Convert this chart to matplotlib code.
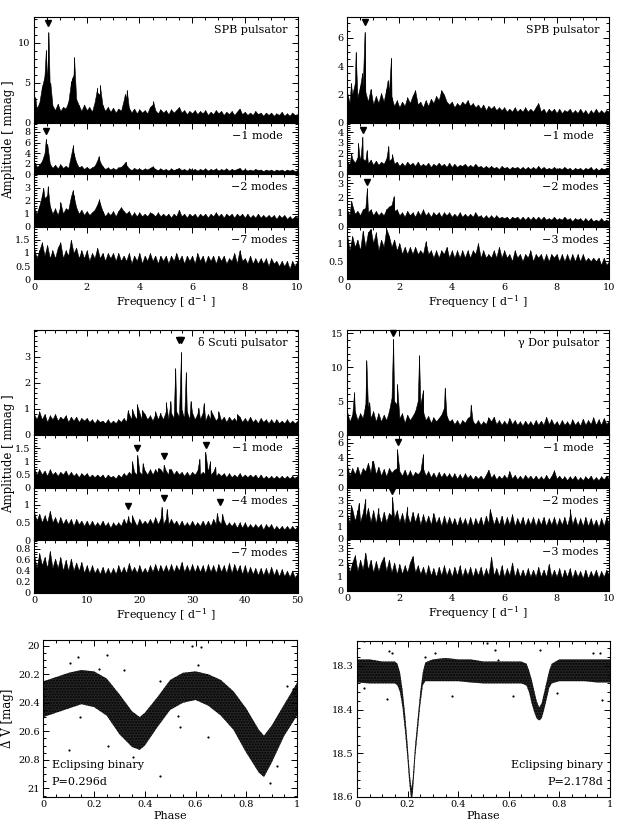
import numpy as np
import matplotlib
matplotlib.use('Agg')
import matplotlib.pyplot as plt
from matplotlib.ticker import MultipleLocator, FuncFormatter

plt.rcParams['font.family'] = ['DejaVu Serif']
plt.rcParams['mathtext.fontset'] = 'dejavuserif'
plt.rcParams['hatch.linewidth'] = 1.0

# ---------------- frequency grids ----------------
freq10 = np.linspace(0, 10, 101)
freq50 = np.linspace(0, 50, 101)

# ---------------- top-left: SPB pulsator ----------------
tl1_amp = [2.8,1.8,2.5,4.5,6.0,5.0,4.0,2.2,1.6,2.4,
           1.5,2.0,1.8,2.6,5.0,6.0,3.0,2.2,1.5,2.3,
           1.6,2.0,1.4,2.6,3.8,3.5,2.2,1.5,2.0,1.4,
           1.9,1.3,1.8,1.5,2.8,3.0,1.9,1.3,1.8,1.2,
           1.7,1.3,1.6,1.2,2.0,2.3,1.6,1.2,1.7,1.3,
           1.6,1.1,1.7,1.3,1.6,2.0,1.3,1.6,1.1,1.5,
           1.2,1.6,1.1,1.5,1.2,1.6,1.0,1.4,1.1,1.6,
           1.2,1.5,1.0,1.4,1.1,1.5,1.0,1.4,1.8,1.1,
           1.4,1.0,1.3,1.0,1.5,1.1,1.3,0.9,1.3,1.0,
           1.3,0.9,1.2,1.0,1.4,0.9,1.2,0.9,1.3,1.0,1.1]
tl1_peaks = [(0.05,3.2),(0.38,5.5),(0.45,9.1),(0.55,11.3),(0.62,5.0),(1.42,5.2),(1.45,5.6),
             (1.52,8.2),(2.4,4.4),(2.5,4.7),(3.45,3.6),(3.52,4.1),(4.52,2.7)]
tl1_arrows = [(0.55,12.5)]

tl2_amp = [2.0,1.3,1.8,2.5,4.0,3.5,2.0,1.2,1.8,1.1,
           1.9,1.2,1.6,1.2,3.5,4.0,2.3,1.3,1.6,1.0,
           1.4,1.0,1.3,1.6,2.6,2.4,1.5,1.0,1.3,0.9,
           1.2,0.9,1.3,1.4,1.9,1.8,1.1,0.8,1.2,0.9,
           1.1,0.8,1.1,0.9,1.2,1.5,1.0,0.8,1.1,0.8,
           1.0,0.7,1.1,0.8,1.0,1.2,0.8,1.0,0.7,1.1,
           0.8,1.0,0.7,1.0,0.8,1.1,0.7,1.0,0.8,1.1,
           0.7,1.0,0.8,1.1,0.7,1.0,0.8,1.0,1.2,0.7,
           1.0,0.7,0.9,0.7,1.0,0.8,0.9,0.6,0.9,0.7,
           0.9,0.6,0.9,0.7,0.9,0.6,0.9,0.7,0.9,0.6,0.8]
tl2_peaks = [(0.05,2.2),(0.45,6.7),(0.5,5.8),(1.48,5.5),(2.45,3.4),(3.48,2.4)]
tl2_arrows = [(0.45,8.1)]

tl3_amp = [1.5,1.0,1.6,2.4,2.2,2.4,1.6,1.0,1.4,0.9,
           1.6,1.0,1.4,1.3,2.3,2.4,1.5,1.0,1.3,0.9,
           1.2,0.9,1.1,1.3,1.7,1.8,1.2,0.8,1.1,0.9,
           1.2,0.8,1.2,1.5,1.2,1.0,1.2,0.8,1.1,0.8,
           1.1,0.8,1.0,0.8,1.1,1.0,0.8,1.1,0.8,1.0,
           0.8,1.0,0.7,1.0,0.8,1.3,0.8,1.0,0.7,1.0,
           0.8,1.0,0.7,1.0,0.8,1.0,0.7,1.0,0.8,1.1,
           0.8,1.0,0.7,1.0,0.8,1.0,0.7,1.0,0.8,1.0,
           0.7,1.0,0.7,0.9,0.7,1.0,0.7,0.9,0.7,0.9,
           0.7,0.9,0.6,0.9,0.7,0.9,0.6,0.8,0.6,0.8,0.7]
tl3_peaks = [(0.35,3.0),(0.52,3.1),(1.0,1.9),(1.47,2.8),(2.47,2.1)]
tl3_arrows = []

tl4_amp = [1.2,0.8,1.1,1.4,0.9,1.3,0.8,1.1,0.8,1.2,
           1.4,0.8,1.1,0.9,1.5,1.0,1.2,0.8,1.1,0.8,
           1.1,0.7,1.0,0.8,1.2,0.8,1.0,0.7,1.0,0.8,
           1.0,0.7,1.0,0.7,0.9,0.7,1.0,0.6,0.9,0.7,
           1.0,0.6,0.9,0.7,1.0,0.7,0.9,0.6,0.9,0.7,
           0.9,0.6,0.9,0.7,1.0,0.7,0.9,0.6,0.9,0.7,
           0.9,0.6,1.0,0.7,0.9,0.6,0.9,0.7,0.9,0.6,
           0.9,0.7,0.9,0.6,0.8,0.7,1.0,0.6,1.1,0.7,
           0.8,0.6,0.9,0.6,0.8,0.6,0.8,0.6,0.8,0.5,
           0.8,0.6,0.7,0.5,0.7,0.5,0.7,0.4,0.7,0.5,0.7]
tl4_peaks = []
tl4_arrows = []

# ---------------- top-right: SPB pulsator ----------------
tr1_amp = [2.2,1.4,2.0,2.8,1.8,2.6,2.5,2.2,1.5,2.4,
           1.3,1.9,1.4,2.1,1.5,2.4,2.2,1.8,1.2,1.6,
           1.1,1.5,1.2,1.8,1.4,1.9,2.3,1.3,1.5,1.1,
           1.6,1.2,1.7,1.4,1.9,1.6,2.3,2.0,1.5,1.3,
           1.5,1.1,1.4,1.2,1.5,1.3,1.6,1.2,1.4,1.1,
           1.3,1.0,1.3,0.9,1.2,1.0,1.2,0.9,1.1,0.9,
           1.1,0.8,1.0,0.8,1.1,0.8,1.0,0.8,1.1,0.8,
           1.0,0.8,1.1,1.4,0.8,1.0,0.7,1.0,0.8,1.0,
           0.7,1.0,0.7,0.9,0.8,1.0,0.7,0.9,0.7,1.0,
           0.7,0.9,0.6,0.9,0.7,1.0,0.7,0.9,0.7,0.9,0.8]
tr1_peaks = [(0.15,2.8),(0.33,5.0),(0.58,3.5),(0.67,6.4),(1.55,3.0),(1.68,4.6)]
tr1_arrows = [(0.67,7.1)]

tr2_amp = [1.3,0.9,1.5,1.1,1.6,1.2,1.5,1.3,1.0,1.4,
           0.9,1.3,0.9,1.2,1.0,1.5,1.3,1.5,1.0,1.2,
           0.8,1.1,0.8,1.2,0.9,1.1,0.8,1.2,0.8,1.0,
           0.8,1.1,0.7,1.0,0.8,1.1,0.8,1.0,0.7,1.1,
           0.7,1.0,0.7,0.9,0.8,1.0,0.7,0.9,0.7,1.0,
           0.7,0.8,0.6,0.8,0.6,0.8,0.6,0.7,0.5,0.8,
           0.6,0.7,0.5,0.7,0.6,0.7,0.5,0.7,0.5,0.7,
           0.5,0.7,0.5,0.8,0.5,0.7,0.5,0.6,0.5,0.7,
           0.5,0.6,0.5,0.7,0.5,0.6,0.4,0.6,0.5,0.6,
           0.4,0.6,0.5,0.7,0.4,0.6,0.4,0.6,0.5,0.6,0.5]
tr2_peaks = [(0.16,2.0),(0.42,3.0),(0.59,3.6),(0.75,2.3),(1.58,2.7),(1.72,1.9)]
tr2_arrows = [(0.6,4.2)]

tr3_amp = [1.2,0.8,1.5,0.9,1.1,0.8,1.2,1.3,1.0,1.2,
           0.8,1.1,0.8,1.0,0.8,1.2,1.4,1.5,1.1,1.2,
           0.8,1.0,0.7,1.1,0.8,1.0,0.7,1.1,0.8,1.2,
           0.8,1.0,0.7,1.0,0.8,1.0,0.7,1.0,0.8,1.0,
           0.7,0.9,0.7,1.0,0.7,0.9,0.7,0.9,0.7,1.0,
           0.7,0.8,0.6,0.8,0.6,0.8,0.6,0.8,0.6,0.7,
           0.6,0.7,0.5,0.7,0.6,0.7,0.5,0.7,0.5,0.7,
           0.5,0.7,0.5,0.7,0.5,0.7,0.5,0.6,0.5,0.7,
           0.5,0.6,0.5,0.7,0.5,0.6,0.4,0.6,0.5,0.6,
           0.4,0.6,0.4,0.6,0.4,0.5,0.4,0.6,0.4,0.5,0.4]
tr3_peaks = [(0.16,1.8),(0.76,2.65),(1.78,2.1)]
tr3_arrows = [(0.76,3.1)]

tr4_amp = [1.25,0.8,1.2,0.9,1.1,0.8,1.35,0.9,1.3,1.4,
           1.0,1.3,0.8,1.1,0.9,1.4,1.2,0.9,1.1,0.8,
           1.0,0.7,0.9,0.7,0.9,0.7,0.9,0.7,0.8,0.7,
           1.05,0.7,0.8,0.6,0.8,0.6,0.8,0.7,0.9,0.6,
           0.8,0.6,0.8,0.6,0.8,0.6,0.8,0.6,0.8,0.7,
           1.0,0.6,0.8,0.6,0.7,0.6,0.8,0.6,0.9,0.6,
           0.8,0.6,0.7,0.5,0.8,0.6,0.7,0.5,0.7,0.6,
           0.8,0.5,0.7,0.6,0.7,0.5,0.7,0.5,0.7,0.6,
           0.7,0.5,0.7,0.5,0.7,0.5,0.7,0.5,0.7,0.5,
           0.7,0.5,0.6,0.5,0.6,0.5,0.6,0.4,0.6,0.4,0.5]
tr4_peaks = []
tr4_arrows = []

# ---------------- middle-left: delta Scuti pulsator ----------------
ml1_amp = [0.8,0.6,0.9,0.6,0.8,0.5,0.75,0.6,0.8,0.55,
           0.7,0.6,0.75,0.5,0.7,0.55,0.7,0.5,0.65,0.55,
           0.65,0.5,0.6,0.45,0.6,0.5,0.55,0.45,0.6,0.45,
           0.55,0.45,0.6,0.5,0.65,0.5,0.8,0.6,0.75,0.6,
           0.85,0.55,0.8,0.6,0.75,0.55,0.8,0.6,0.85,0.6,
           0.9,0.6,0.85,0.65,0.9,0.7,0.95,0.65,0.9,0.6,
           0.85,0.6,0.8,0.6,0.85,0.55,0.8,0.6,0.75,0.55,
           0.7,0.55,0.7,0.5,0.7,0.55,0.65,0.5,0.7,0.5,
           0.65,0.5,0.7,0.5,0.6,0.45,0.65,0.5,0.6,0.45,
           0.6,0.45,0.6,0.45,0.55,0.45,0.6,0.45,0.55,0.45,0.55]
ml1_peaks = [(17.8,0.95),(18.6,1.0),(19.5,1.18),(20.5,0.95),(23.0,0.9),(24.0,0.8),(25.0,1.25),
             (25.9,1.3),(26.8,2.55),(27.9,3.18),(28.8,2.4),(29.7,1.3),(31.2,1.05),(32.2,1.22),
             (33.5,0.95),(35.0,0.9),(38.5,0.8)]
ml1_arrows = [(27.5,3.62),(27.9,3.62)]

ml2_amp = [0.75,0.5,0.7,0.5,0.65,0.45,0.7,0.5,0.6,0.45,
           0.6,0.5,0.65,0.45,0.6,0.45,0.55,0.4,0.55,0.45,
           0.55,0.4,0.5,0.4,0.5,0.4,0.5,0.35,0.5,0.4,
           0.45,0.35,0.5,0.4,0.55,0.45,0.6,0.5,0.6,0.5,
           0.6,0.5,0.65,0.5,0.7,0.5,0.7,0.55,0.7,0.55,
           0.65,0.5,0.7,0.5,0.65,0.5,0.6,0.45,0.6,0.45,
           0.6,0.5,0.65,0.5,0.6,0.5,0.6,0.5,0.6,0.45,
           0.55,0.45,0.55,0.4,0.55,0.4,0.5,0.4,0.55,0.4,
           0.5,0.4,0.5,0.4,0.5,0.35,0.5,0.35,0.45,0.35,
           0.45,0.35,0.45,0.35,0.45,0.35,0.45,0.35,0.45,0.35,0.45]
ml2_peaks = [(18.6,1.0),(19.6,1.25),(20.6,0.92),(23.6,0.75),(24.6,0.87),(25.6,0.7),
             (31.4,1.1),(32.5,1.37),(33.4,1.0),(34.4,0.8)]
ml2_arrows = [(19.6,1.51),(24.6,1.19),(32.7,1.62)]

ml3_amp = [0.8,0.55,0.75,0.5,0.7,0.5,0.83,0.5,0.65,0.45,
           0.65,0.45,0.6,0.45,0.6,0.4,0.6,0.45,0.55,0.4,
           0.55,0.4,0.55,0.4,0.5,0.4,0.55,0.4,0.5,0.35,
           0.5,0.4,0.5,0.4,0.6,0.45,0.55,0.45,0.55,0.4,
           0.6,0.45,0.55,0.45,0.6,0.45,0.65,0.45,0.6,0.45,
           0.6,0.45,0.6,0.45,0.55,0.4,0.55,0.4,0.5,0.4,
           0.55,0.4,0.5,0.4,0.55,0.4,0.55,0.4,0.6,0.45,
           0.55,0.45,0.55,0.4,0.5,0.4,0.5,0.35,0.5,0.35,
           0.5,0.35,0.45,0.35,0.45,0.35,0.45,0.3,0.45,0.35,
           0.45,0.3,0.4,0.3,0.4,0.3,0.4,0.3,0.4,0.3,0.4]
ml3_peaks = [(17.9,0.68),(18.6,0.7),(24.2,0.95),(25.2,0.88),(34.7,0.77),(35.7,0.75)]
ml3_arrows = [(17.9,0.97),(24.6,1.2),(35.2,1.09)]

ml4_amp = [0.7,0.45,0.72,0.5,0.65,0.45,0.76,0.45,0.62,0.45,
           0.65,0.4,0.6,0.4,0.62,0.4,0.55,0.4,0.56,0.36,
           0.5,0.36,0.5,0.36,0.45,0.34,0.47,0.34,0.45,0.34,
           0.45,0.34,0.5,0.36,0.47,0.36,0.54,0.38,0.47,0.36,
           0.5,0.36,0.45,0.36,0.5,0.38,0.52,0.38,0.5,0.38,
           0.5,0.38,0.52,0.38,0.5,0.4,0.56,0.38,0.5,0.38,
           0.52,0.38,0.5,0.38,0.5,0.36,0.52,0.38,0.5,0.36,
           0.52,0.38,0.5,0.36,0.54,0.36,0.52,0.38,0.5,0.34,
           0.5,0.34,0.47,0.34,0.45,0.32,0.45,0.32,0.45,0.32,
           0.47,0.32,0.43,0.3,0.43,0.3,0.4,0.29,0.4,0.27,0.36]
ml4_peaks = []
ml4_arrows = []

# ---------------- middle-right: gamma Dor pulsator ----------------
mr1_amp = [3.5,2.0,3.0,3.5,2.2,3.2,2.5,4.5,4.0,2.5,
           3.5,2.0,3.2,2.0,3.0,2.2,3.5,5.5,5.0,4.5,
           2.5,3.2,1.8,3.0,2.2,2.8,3.5,5.0,4.5,3.5,
           2.2,2.8,1.8,2.6,2.0,2.5,3.0,4.0,2.8,2.0,
           2.3,1.6,2.2,1.5,2.2,1.8,2.5,2.8,2.0,1.6,
           2.2,1.5,2.0,1.6,2.6,2.0,2.7,1.6,2.2,1.5,
           2.1,1.5,2.5,1.6,2.2,1.5,2.0,1.4,2.1,1.5,
           2.0,1.4,2.2,1.5,2.1,1.5,2.7,1.6,2.3,1.5,
           2.0,1.4,2.2,1.5,2.0,1.4,2.3,1.5,2.0,1.4,
           2.4,1.5,2.2,1.6,2.6,1.5,2.3,1.5,2.5,1.6,2.2]
mr1_peaks = [(0.27,6.3),(0.74,11.0),(0.85,4.8),(1.76,14.2),(1.91,7.5),(2.75,11.75),
             (2.9,6.6),(3.73,7.0),(4.72,4.5)]
mr1_arrows = [(1.76,15.0)]

mr2_amp = [3.0,1.6,2.6,1.8,2.8,1.6,2.6,2.2,3.3,2.0,
           3.5,1.8,2.8,1.6,2.5,1.5,2.6,2.0,2.4,2.6,
           2.2,1.6,2.4,1.5,2.3,1.5,2.1,1.8,2.2,2.6,
           1.6,2.2,1.4,2.0,1.3,2.1,1.4,2.0,1.4,1.9,
           1.3,1.9,1.2,1.8,1.2,1.9,1.3,1.7,1.1,1.6,
           1.2,1.6,1.1,1.7,2.4,1.3,1.8,1.1,1.6,1.2,
           1.7,1.2,2.2,1.2,1.7,1.1,1.6,1.1,1.7,1.2,
           1.6,1.1,1.6,1.1,1.5,1.1,1.7,1.1,1.5,2.3,
           1.2,1.6,1.1,1.5,1.0,1.5,1.1,1.6,1.0,1.4,
           1.0,1.5,1.1,1.6,1.0,1.4,1.0,1.5,1.1,1.6,1.2]
mr2_peaks = [(0.97,3.6),(1.91,5.1),(2.9,4.45)]
mr2_arrows = [(1.95,6.1)]

mr3_amp = [2.0,1.2,2.3,1.4,2.2,1.3,2.0,1.6,2.4,1.3,
           2.2,1.2,2.0,1.2,2.1,1.3,2.0,1.8,1.6,2.2,
           1.3,2.0,1.2,1.9,1.2,2.1,1.3,2.0,1.1,1.9,
           1.2,1.8,1.1,2.0,1.2,1.7,1.0,1.8,1.1,1.7,
           1.1,1.6,1.0,1.7,1.1,1.6,1.0,1.7,1.0,1.6,
           1.1,1.7,1.0,1.8,1.2,1.9,1.1,1.7,1.1,1.8,
           1.0,1.7,1.1,1.9,1.0,1.6,1.1,1.7,1.0,1.6,
           1.1,1.7,1.0,1.6,1.1,1.7,1.0,1.6,1.1,1.7,
           1.0,1.6,1.1,1.7,1.0,1.8,1.1,1.7,1.0,1.6,
           1.0,1.7,1.0,1.6,1.0,1.5,0.9,1.6,1.0,1.7,1.1]
mr3_peaks = [(0.15,2.6),(0.45,2.8),(0.7,3.1),(1.2,2.4),(1.72,3.25),(2.3,2.5),(5.45,2.3),(8.5,2.3)]
mr3_arrows = [(1.72,3.73)]

mr4_amp = [2.2,1.3,2.0,2.5,1.4,2.2,1.5,2.7,1.5,2.2,
           1.3,2.1,1.4,2.0,2.4,1.4,2.2,1.3,2.0,1.2,
           1.9,1.2,1.8,1.3,2.0,2.45,1.3,1.8,1.2,1.7,
           1.1,1.8,1.1,1.6,1.0,1.7,1.1,1.8,1.1,1.6,
           1.0,1.7,1.1,1.8,1.0,1.6,1.1,1.7,1.0,1.6,
           1.1,1.7,1.0,1.6,1.1,2.4,1.1,1.6,1.0,1.8,
           1.0,1.6,1.1,2.0,1.0,1.6,1.0,1.5,1.0,1.6,
           1.0,1.5,1.0,1.7,1.0,1.5,1.0,1.9,1.0,1.5,
           1.0,1.6,0.9,1.5,1.0,1.6,0.9,1.5,1.0,1.4,
           0.9,1.5,0.9,1.4,1.0,1.5,0.9,1.4,1.0,1.5,1.1]
mr4_peaks = []
mr4_arrows = []

# ---------------- eclipsing binaries ----------------
bl_phase = [0, .05, .1, .15, .2, .25, .3, .35, .38, .4, .45, .5, .55, .6, .65, .7, .75, .8, .85, .87, .9, .95, 1.0]
bl_bright = [20.25, 20.22, 20.19, 20.17, 20.18, 20.23, 20.34, 20.46, 20.50, 20.47, 20.36, 20.24,
             20.19, 20.18, 20.20, 20.24, 20.32, 20.44, 20.59, 20.63, 20.56, 20.41, 20.26]
bl_faint = [20.50, 20.47, 20.44, 20.41, 20.43, 20.49, 20.62, 20.71, 20.73, 20.70, 20.57, 20.45,
            20.40, 20.38, 20.42, 20.49, 20.59, 20.75, 20.89, 20.92, 20.82, 20.63, 20.49]
bl_out_phase = [0.138, 0.105, 0.25, 0.22, 0.32, 0.585, 0.62, 0.61, 0.10, 0.256, 0.355, 0.46,
                0.537, 0.65, 0.895, 0.92, 0.96, 0.985, 0.99, 0.145, 0.53, 0.46]
bl_out_mag = [20.077, 20.12, 20.065, 20.16, 20.17, 20.0, 20.007, 20.135, 20.73, 20.70, 20.78, 20.91,
              20.57, 20.64, 20.96, 20.84, 20.28, 20.30, 20.33, 20.5, 20.49, 20.25]

br_phase = [0, 0.05, 0.1, 0.15, 0.16, 0.17, 0.18, 0.19, 0.2, 0.205, 0.21, 0.215, 0.22, 0.225, 0.23,
            0.24, 0.25, 0.26, 0.27, 0.3, 0.35, 0.4, 0.45, 0.5, 0.55, 0.6, 0.65, 0.67, 0.68, 0.69,
            0.70, 0.71, 0.72, 0.73, 0.74, 0.75, 0.76, 0.77, 0.8, 0.85, 0.9, 0.95, 1.0]
br_bright = [18.285, 18.285, 18.29, 18.29, 18.295, 18.315, 18.355, 18.41, 18.48, 18.52, 18.555, 18.58,
             18.56, 18.52, 18.48, 18.42, 18.36, 18.315, 18.292, 18.285, 18.282, 18.285, 18.285, 18.29,
             18.29, 18.29, 18.29, 18.295, 18.31, 18.33, 18.355, 18.38, 18.395, 18.385, 18.36, 18.335,
             18.31, 18.295, 18.285, 18.285, 18.285, 18.285, 18.285]
br_faint = [18.338, 18.34, 18.34, 18.34, 18.345, 18.36, 18.395, 18.45, 18.515, 18.555, 18.585, 18.61,
            18.595, 18.555, 18.51, 18.45, 18.39, 18.345, 18.335, 18.335, 18.335, 18.335, 18.338, 18.34,
            18.34, 18.34, 18.34, 18.345, 18.36, 18.385, 18.405, 18.42, 18.425, 18.42, 18.4, 18.375,
            18.35, 18.34, 18.335, 18.335, 18.335, 18.338, 18.338]
br_out_phase = [0.026, 0.125, 0.138, 0.118, 0.026, 0.27, 0.31, 0.375, 0.513, 0.546, 0.559, 0.724,
                0.618, 0.789, 0.934, 0.967, 0.96]
br_out_mag = [18.244, 18.267, 18.271, 18.376, 18.351, 18.279, 18.27, 18.37, 18.248, 18.263, 18.286,
              18.263, 18.37, 18.363, 18.271, 18.378, 18.27]

# ---------------- layout (pixels) ----------------
W, H = 627, 831
fig = plt.figure(figsize=(W / 100, H / 100), dpi=100)


def add_ax(x0, x1, ytop, ybot):
    return fig.add_axes([x0 / W, 1 - ybot / H, (x1 - x0) / W, (ybot - ytop) / H])


fmt = FuncFormatter(lambda v, p: '%g' % round(v, 4))


def style(ax):
    ax.tick_params(which='both', direction='in', top=True, right=True, labelsize=7, width=0.7, pad=2.5)
    ax.tick_params(which='major', length=4)
    ax.tick_params(which='minor', length=2)
    for s in ax.spines.values():
        s.set_linewidth(0.8)


def spectrum(ax, grid, amp, peaks, arrows):
    pf = np.array([p[0] for p in peaks], dtype=float)
    pa = np.array([p[1] for p in peaks], dtype=float)
    f = np.concatenate([grid, pf])
    a = np.concatenate([np.array(amp, dtype=float), pa])
    o = np.argsort(f, kind='stable')
    ax.fill_between(f[o], 0, a[o], facecolor='black', edgecolor='black', linewidth=0.4)
    ax.vlines(f[o], 0, a[o], color='black', linewidth=0.6)
    for (x, y) in arrows:
        ax.plot([x], [y], marker='v', color='black', ms=4.5, clip_on=False, zorder=5)


blocks = [
    dict(x0=34, x1=297.5, ys=[17, 123, 174.3, 226.7, 279.3], grid=freq10, xmax=10, xmaj=2, xmin=0.5,
         panels=[(tl1_amp, tl1_peaks, tl1_arrows, 13.2, [0, 5, 10], 1, 'SPB pulsator'),
                 (tl2_amp, tl2_peaks, tl2_arrows, 9.7, [0, 2, 4, 6, 8], 0.5, '\u22121 mode'),
                 (tl3_amp, tl3_peaks, tl3_arrows, 4.03, [0, 1, 2, 3], 0.2, '\u22122 modes'),
                 (tl4_amp, tl4_peaks, tl4_arrows, 2.0, [0, 0.5, 1, 1.5], 0.1, '\u22127 modes')],
         ylabel=True),
    dict(x0=347, x1=609, ys=[17, 123, 174.3, 227, 279.3], grid=freq10, xmax=10, xmaj=2, xmin=0.5,
         panels=[(tr1_amp, tr1_peaks, tr1_arrows, 7.45, [0, 2, 4, 6], 0.5, 'SPB pulsator'),
                 (tr2_amp, tr2_peaks, tr2_arrows, 4.9, [0, 1, 2, 3, 4], 0.2, '\u22121 mode'),
                 (tr3_amp, tr3_peaks, tr3_arrows, 3.6, [0, 1, 2, 3], 0.2, '\u22122 modes'),
                 (tr4_amp, tr4_peaks, tr4_arrows, 1.45, [0, 0.5, 1], 0.1, '\u22123 modes')],
         ylabel=False),
    dict(x0=34, x1=297.5, ys=[330, 435, 487.7, 540, 592.7], grid=freq50, xmax=50, xmaj=10, xmin=2,
         panels=[(ml1_amp, ml1_peaks, ml1_arrows, 4.02, [0, 1, 2, 3], 0.2, '\u03b4 Scuti pulsator'),
                 (ml2_amp, ml2_peaks, ml2_arrows, 2.0, [0, 0.5, 1, 1.5], 0.1, '\u22121 mode'),
                 (ml3_amp, ml3_peaks, ml3_arrows, 1.49, [0, 0.5, 1], 0.1, '\u22124 modes'),
                 (ml4_amp, ml4_peaks, ml4_arrows, 0.96, [0, 0.2, 0.4, 0.6, 0.8], 0.05, '\u22127 modes')],
         ylabel=True),
    dict(x0=347, x1=609, ys=[330, 435, 487.7, 539, 591], grid=freq10, xmax=10, xmaj=2, xmin=0.5,
         panels=[(mr1_amp, mr1_peaks, mr1_arrows, 15.5, [0, 5, 10, 15], 1, '\u03b3 Dor pulsator'),
                 (mr2_amp, mr2_peaks, mr2_arrows, 7.0, [0, 2, 4, 6], 0.5, '\u22121 mode'),
                 (mr3_amp, mr3_peaks, mr3_arrows, 3.95, [0, 1, 2, 3], 0.2, '\u22122 modes'),
                 (mr4_amp, mr4_peaks, mr4_arrows, 3.65, [0, 1, 2, 3], 0.2, '\u22123 modes')],
         ylabel=False),
]

for b in blocks:
    ys = b['ys']
    for i, (amp, peaks, arrows, ymax, yt, ymin, label) in enumerate(b['panels']):
        ax = add_ax(b['x0'], b['x1'], ys[i], ys[i + 1])
        spectrum(ax, b['grid'], amp, peaks, arrows)
        ax.set_xlim(0, b['xmax'])
        ax.set_ylim(0, ymax)
        ax.set_yticks(yt)
        ax.yaxis.set_minor_locator(MultipleLocator(ymin))
        ax.yaxis.set_major_formatter(fmt)
        ax.xaxis.set_major_locator(MultipleLocator(b['xmaj']))
        ax.xaxis.set_minor_locator(MultipleLocator(b['xmin']))
        style(ax)
        if i < 3:
            ax.tick_params(labelbottom=False)
        else:
            ax.xaxis.set_major_formatter(fmt)
            ax.set_xlabel('Frequency [ d$^{-1}$ ]', fontsize=8, labelpad=1)
        off = -15 if label.endswith('mode') else -10
        ax.annotate(label, xy=(1, 1), xycoords='axes fraction', xytext=(off, -13),
                    textcoords='offset pixels', ha='right', va='center', fontsize=8)
    if b['ylabel']:
        yc = (ys[0] + ys[-1]) / 2 - 8
        fig.text(8.5 / W, 1 - yc / H, 'Amplitude [ mmag ]', rotation=90, ha='center', va='center',
                 fontsize=8.5)


def light_curve(ax, phase, bright, faint, out_p, out_m):
    ax.fill_between(phase, bright, faint, facecolor='#262626', edgecolor='black', linewidth=0.0,
                    hatch='......')
    ax.scatter(out_p, out_m, s=2.5, color='black', linewidths=0)


# eclipsing binary, left
axl = add_ax(43.3, 297, 640, 797)
light_curve(axl, bl_phase, bl_bright, bl_faint, bl_out_phase, bl_out_mag)
axl.set_xlim(0, 1)
axl.set_ylim(21.06, 19.96)
axl.xaxis.set_major_locator(MultipleLocator(0.2))
axl.xaxis.set_minor_locator(MultipleLocator(0.05))
axl.yaxis.set_major_locator(MultipleLocator(0.2))
axl.yaxis.set_minor_locator(MultipleLocator(0.05))
axl.xaxis.set_major_formatter(fmt)
axl.yaxis.set_major_formatter(fmt)
style(axl)
axl.set_xlabel('Phase', fontsize=8, labelpad=1)
axl.set_ylabel('\u0394 V [mag]', fontsize=8.5, labelpad=3)
axl.text(51.7 / W, 1 - 765 / H, 'Eclipsing binary', transform=fig.transFigure, fontsize=8,
         ha='left', va='center')
axl.text(51.7 / W, 1 - 782 / H, 'P=0.296d', transform=fig.transFigure, fontsize=8,
         ha='left', va='center')

# eclipsing binary, right
axr = add_ax(357, 610, 641, 797)
light_curve(axr, br_phase, br_bright, br_faint, br_out_phase, br_out_mag)
axr.set_xlim(0, 1)
axr.set_ylim(18.6, 18.243)
axr.xaxis.set_major_locator(MultipleLocator(0.2))
axr.xaxis.set_minor_locator(MultipleLocator(0.05))
axr.yaxis.set_major_locator(MultipleLocator(0.1))
axr.yaxis.set_minor_locator(MultipleLocator(0.02))
axr.xaxis.set_major_formatter(fmt)
axr.yaxis.set_major_formatter(fmt)
style(axr)
axr.set_xlabel('Phase', fontsize=8, labelpad=1)
axr.text(603 / W, 1 - 765 / H, 'Eclipsing binary', transform=fig.transFigure, fontsize=8,
         ha='right', va='center')
axr.text(603 / W, 1 - 782 / H, 'P=2.178d', transform=fig.transFigure, fontsize=8,
         ha='right', va='center')

fig.savefig('out.png', dpi=100)
